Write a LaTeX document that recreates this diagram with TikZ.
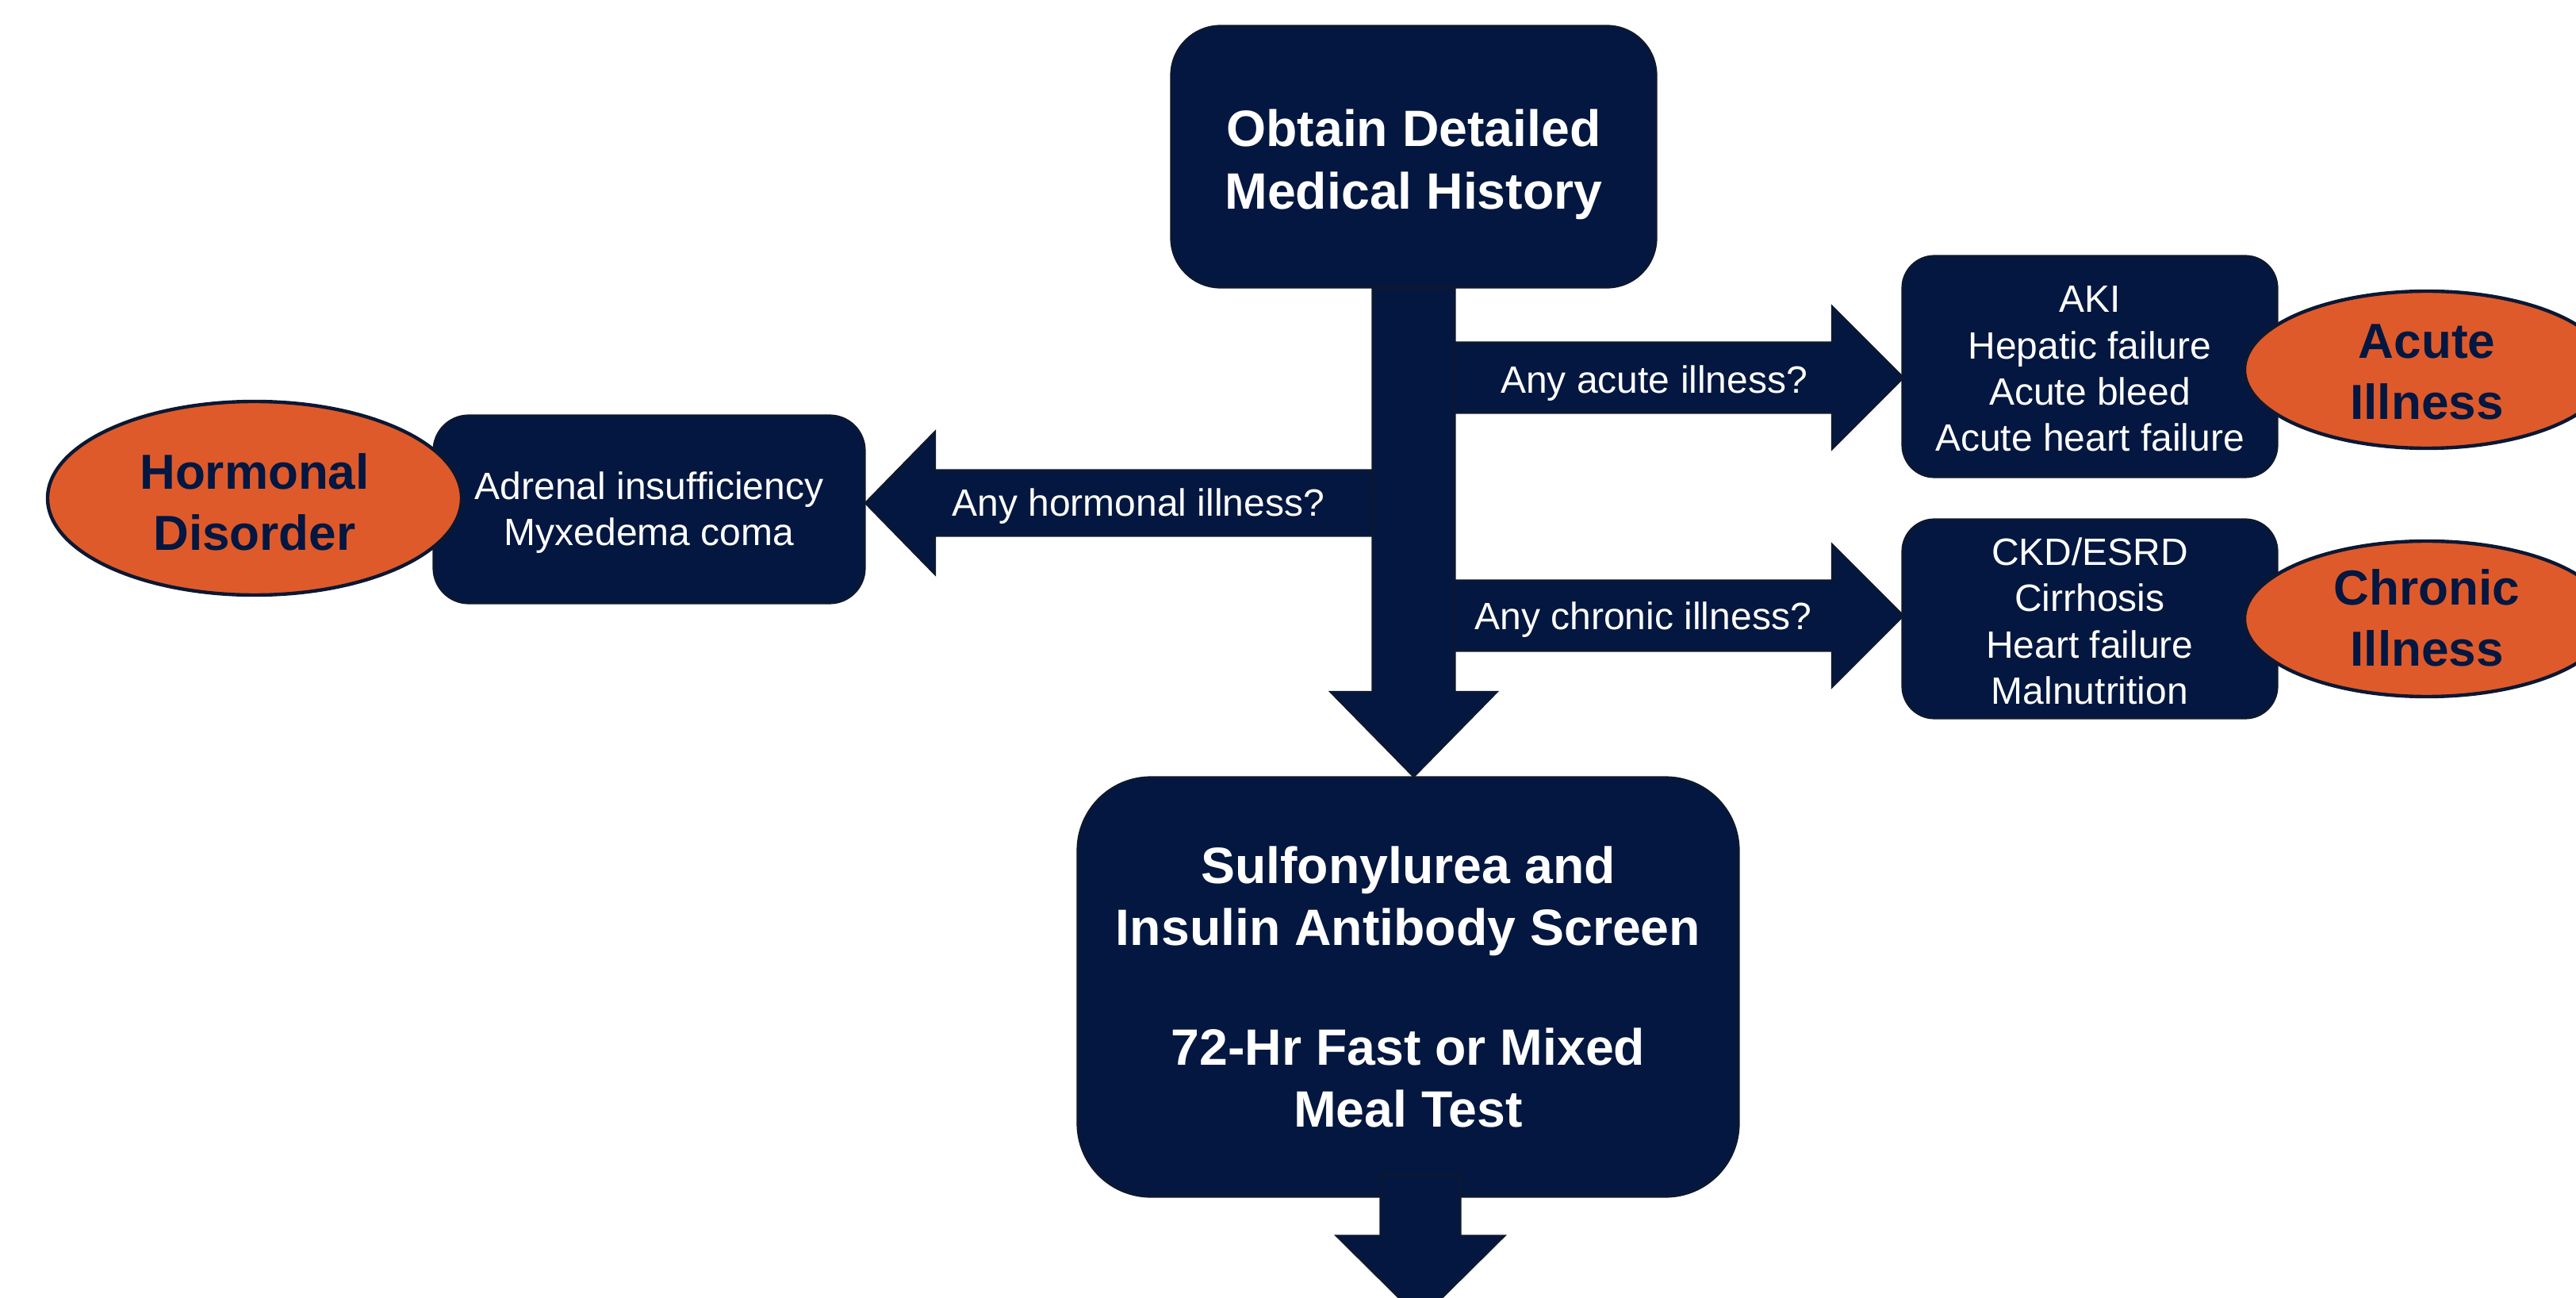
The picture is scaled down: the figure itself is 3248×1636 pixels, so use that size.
\documentclass[tikz,border=0pt]{standalone}
\usepackage{fontspec}
\setmainfont{Liberation Sans}
\usetikzlibrary{calc,shapes.geometric}
\definecolor{navy}{RGB}{3,23,64}
\definecolor{navyedge}{RGB}{12,24,50}
\definecolor{orng}{RGB}{223,90,43}
\newcommand\rightblock[2]{\path[blockarrow] ($(#1)+(0,-44)$) -- ($(#2)+(-89,-44)$) -- ($(#2)+(-89,-89)$) -- (#2) -- ($(#2)+(-89,89)$) -- ($(#2)+(-89,44)$) -- ($(#1)+(0,44)$) -- cycle;}
\newcommand\leftblock[2]{\path[blockarrow] ($(#1)+(0,-41)$) -- ($(#2)+(87,-41)$) -- ($(#2)+(87,-89)$) -- (#2) -- ($(#2)+(87,89)$) -- ($(#2)+(87,41)$) -- ($(#1)+(0,41)$) -- cycle;}
\begin{document}
\begin{tikzpicture}[x=0.25pt,y=-0.25pt,
  box/.style={rectangle, rounded corners=#1, fill=navy, draw=navyedge, line width=0.8pt, inner sep=0pt},
  bigtxt/.style={text=white, font=\fontsize{16.1}{19.6}\selectfont\bfseries, align=center},
  smalltxt/.style={text=white, font=\fontsize{12}{14.6}\selectfont, align=center},
  elltxt/.style={text=navy, font=\fontsize{15.5}{19.2}\selectfont\bfseries, align=center, inner sep=0pt},
  orangeell/.style={ellipse, fill=orng, draw=navyedge, line width=1.1pt, inner sep=0pt},
  blockarrow/.style={fill=navy, draw=navyedge, line width=0.8pt, line join=miter}]
\fill[white] (0,0) rectangle (3248,1636);
\useasboundingbox (0,0) rectangle (3248,1636);

% boxes
\node[box=15.5pt, minimum width=152.75pt, minimum height=82.25pt] (topbox) at (1782.5,197.5) {};
\node[bigtxt] (topTxt) at ($(topbox)+(0,10)$) {Obtain Detailed\\Medical History};
\node[box=23pt, minimum width=208.25pt, minimum height=132pt, bigtxt] (bottombox) at (1775.5,1244) {Sulfonylurea and\\Insulin Antibody Screen\\[18pt]72-Hr Fast or Mixed\\Meal Test};
\node[box=11pt, minimum width=135.75pt, minimum height=59pt] (hormbox) at (818.5,642) {};
\node[smalltxt] (hormTxt) at ($(hormbox)+(0,4)$) {Adrenal insufficiency\\Myxedema coma};
\node[box=10pt, minimum width=118pt, minimum height=69.5pt] (acutebox) at (2635,462) {};
\node[smalltxt] (acuteTxt) at ($(acutebox)+(0,3)$) {AKI\\Hepatic failure\\Acute bleed\\Acute heart failure};
\node[box=10pt, minimum width=118pt, minimum height=62.5pt] (chronicbox) at (2635,780) {};
\node[smalltxt] (chronicTxt) at ($(chronicbox)+(0,3)$) {CKD/ESRD\\Cirrhosis\\Heart failure\\Malnutrition};

% side arrows
\coordinate (acuteTip) at ($(acutebox.west)+(2,14)$);
\coordinate (chronicTip) at ($(chronicbox.west)+(2,-4)$);
\coordinate (hormTip) at ($(hormbox.east)+(0,-8)$);
\coordinate (acuteStart) at ($(acuteTip -| topbox.south)+(51.5,0)$);
\coordinate (chronicStart) at ($(chronicTip -| topbox.south)+(51.5,0)$);
\coordinate (hormStart) at ($(hormTip -| topbox.south)+(-51.5,0)$);
\rightblock{acuteStart}{acuteTip}
\rightblock{chronicStart}{chronicTip}
\leftblock{hormStart}{hormTip}

% main vertical arrow
\coordinate (tipV) at (topbox.south |- bottombox.north);
\path[blockarrow] ($(topbox.south)+(-51.5,0)$) -- ($(tipV)+(-51.5,-106)$) -- ($(tipV)+(-104,-106)$) -- (tipV) -- ($(tipV)+(104,-106)$) -- ($(tipV)+(51.5,-106)$) -- ($(topbox.south)+(51.5,0)$) -- cycle;

% bottom arrow
\coordinate (outTip) at (1791,1662);
\coordinate (outStart) at (outTip |- 0,1481);
\path[blockarrow] ($(outStart)+(-50,0)$) -- ($(outTip)+(-50,-104)$) -- ($(outTip)+(-105,-104)$) -- (outTip) -- ($(outTip)+(105,-104)$) -- ($(outTip)+(50,-104)$) -- ($(outStart)+(50,0)$) -- cycle;

% arrow labels
\node[smalltxt] (acuteQ) at ($(acuteStart)!0.5!(acuteTip)+(-31,7)$) {Any acute illness?};
\node[smalltxt] (chronicQ) at ($(chronicStart)!0.5!(chronicTip)+(-45,5)$) {Any chronic illness?};
\node[smalltxt] (hormQ) at ($(hormStart)!0.5!(hormTip)+(24,4)$) {Any hormonal illness?};

% category ellipses
\node[orangeell, minimum width=130.5pt, minimum height=61pt] (hormEll) at (321,628) {};
\node[elltxt] (hormEllT) at ($(hormEll)+(0,5)$) {Hormonal\\Disorder};
\node[orangeell, minimum width=115pt, minimum height=49.5pt] (acuteEll) at (3060,466) {};
\node[elltxt] (acuteEllT) at ($(acuteEll)+(0,3)$) {Acute\\Illness};
\node[orangeell, minimum width=115pt, minimum height=49pt] (chronicEll) at (3060,780) {};
\node[elltxt] (chronicEllT) at ($(chronicEll)+(0,-1)$) {Chronic\\Illness};
\end{tikzpicture}
\end{document}
